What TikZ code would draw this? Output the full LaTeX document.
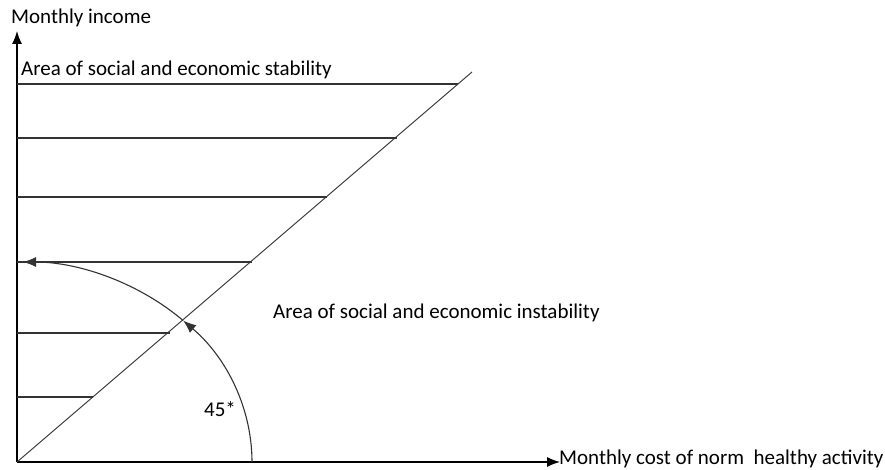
\documentclass[tikz,border=0pt]{standalone}
\usepackage{fontspec}
\setmainfont{Carlito}
\usetikzlibrary{arrows.meta}
\tikzset{
  tipstyle/.style={-{Latex[length=13pt,width=10pt]}},
  axis/.style={line width=1.2pt,black,tipstyle},
  hline/.style={line width=1.3pt,black!80},
  diag/.style={line width=1pt,black!75},
  arcline/.style={line width=1.1pt,black!80},
  lbl/.style={font=\fontsize{21}{23}\selectfont,inner sep=0pt,anchor=west}
}
\begin{document}
\begin{tikzpicture}[x=1pt,y=-1pt]
\useasboundingbox (0,0) rectangle (885,470);
% key points
\coordinate (O) at (17,462);
\coordinate (ytop) at (17,31);
\coordinate (xend) at (560,462);
\coordinate (dtop) at (472,72);
% axes
\draw[axis] (O) -- (ytop);
\draw[axis] (O) -- (xend);
% diagonal
\draw[diag] (O) -- (dtop);
% horizontal lines
\foreach \yy/\xx [count=\i] in {84/458, 138/397, 197/327, 262/252, 333/170, 397/93}{
  \coordinate (hl\i) at (17,\yy);
  \coordinate (hr\i) at (\xx,\yy);
  \draw[hline] (hl\i) -- (hr\i);
}
% elliptical arc with arrows
\coordinate (astart) at (252,462);
\draw[arcline,tipstyle] (astart) arc[start angle=0,end angle=-45,x radius=235,y radius=200] coordinate (amid);
\draw[arcline,tipstyle,shorten >=6pt] (amid) arc[start angle=-45,end angle=-90,x radius=235,y radius=200] coordinate (aend);
% labels
\node[lbl] (yl) at (11,18) {Monthly income};
\node[lbl] (stab) at (21,70) {Area of social and economic stability};
\node[lbl] (instab) at (273,313) {Area of social and economic instability};
\node[lbl] (xl) at (559,459) {Monthly cost of norm\ \ healthy activity};
\node[lbl] (ang) at (204,409) {45*};
\end{tikzpicture}
\end{document}
